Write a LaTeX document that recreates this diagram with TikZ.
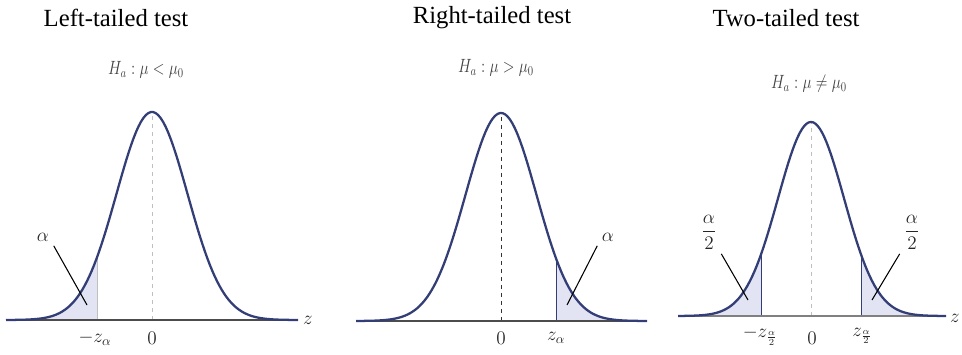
\documentclass[tikz,border=0pt]{standalone}
\usepackage{fontspec}
\setmainfont{Liberation Serif}
\definecolor{bellblue}{RGB}{52,62,118}
\definecolor{tailfill}{RGB}{226,228,244}
\tikzset{
  curve/.style={bellblue, line width=1.7pt},
  axisline/.style={black!70, line width=1.5pt},
  tailarea/.style={fill=tailfill},
  cutline/.style={bellblue, line width=0.7pt},
  leader/.style={black, line width=0.8pt},
  midline/.style={black!25, dashed, line width=0.6pt},
  title/.style={font=\fontsize{18.5}{20}\selectfont},
  hyp/.style={text=black!75, xscale=0.8, font=\fontsize{14}{16}\selectfont},
  ticklab/.style={text=black!85, font=\fontsize{14}{16}\selectfont},
}

\begin{document}
\begin{tikzpicture}[x=0.75pt, y=0.75pt]
  \useasboundingbox (0,0) rectangle (962,354);

  % left-tailed test
  \fill[tailarea] (6,34) -- plot[domain=6:97, samples=60] (\x,{34+208*exp(-0.5*((\x-152)/35.5)^2)}) -- (97,34) -- cycle;
  \draw[cutline, black!25] (97,34) -- (97,96.6);
  \draw[midline] (152,34) -- (152,242);
  \draw[axisline] (6,34) -- (298,34);
  \draw[curve] plot[domain=6:298, samples=120] (\x,{34+208*exp(-0.5*((\x-152)/35.5)^2)});
  \node[title] (t1) at (116,336) {Left-tailed test};
  \node[hyp] (h1) at (146,284) {$H_a:\mu<\mu_0$};
  \node[ticklab] (lz1) at (95,16) {$-z_\alpha$};
  \node[ticklab] (o1) at (152,16) {$0$};
  \node[ticklab] (z1) at (308,34) {$z$};
  \node[ticklab] (a1) at (43,117) {$\alpha$};
  \coordinate (a1e) at (87,49);
  \draw[leader] (a1.south east) -- (a1e);

  % right-tailed test
  \fill[tailarea] (556,33) -- plot[domain=556:647, samples=60] (\x,{33+208*exp(-0.5*((\x-501)/35.5)^2)}) -- (647,33) -- cycle;
  \draw[cutline] (556,33) -- (556,95.6);
  \draw[midline, black!80] (501,33) -- (501,241);
  \draw[axisline] (356,33) -- (647,33);
  \draw[curve] plot[domain=356:647, samples=120] (\x,{33+208*exp(-0.5*((\x-501)/35.5)^2)});
  \node[title] (t2) at (492,336) {Right-tailed test};
  \node[hyp] (h2) at (496,286) {$H_a:\mu>\mu_0$};
  \node[ticklab] (o2) at (501,16) {$0$};
  \node[ticklab] (rz2) at (556,16) {$z_\alpha$};
  \node[ticklab] (a2) at (608,117) {$\alpha$};
  \coordinate (a2e) at (567,49);
  \draw[leader] (a2.south west) -- (a2e);

  % two-tailed test
  \fill[tailarea] (678,38) -- plot[domain=678:761, samples=60] (\x,{38+194*exp(-0.5*((\x-811)/33)^2)}) -- (761,38) -- cycle;
  \fill[tailarea] (861,38) -- plot[domain=861:946, samples=60] (\x,{38+194*exp(-0.5*((\x-811)/33)^2)}) -- (946,38) -- cycle;
  \draw[cutline] (761,38) -- (761,99.5);
  \draw[cutline] (861,38) -- (861,99.5);
  \draw[midline] (811,38) -- (811,232);
  \draw[axisline, black!50] (678,38) -- (946,38);
  \draw[curve] plot[domain=678:946, samples=120] (\x,{38+194*exp(-0.5*((\x-811)/33)^2)});
  \node[title] (t3) at (786,336) {Two-tailed test};
  \node[hyp] (h3) at (809,270) {$H_a:\mu\neq\mu_0$};
  \node[ticklab] (lz3) at (760,18) {$-z_{\frac{\alpha}{2}}$};
  \node[ticklab] (o3) at (812,16) {$0$};
  \node[ticklab] (rz3) at (862,18) {$z_{\frac{\alpha}{2}}$};
  \node[ticklab] (z3) at (955,36) {$z$};
  \node[ticklab] (a3l) at (709,122) {$\displaystyle\frac{\alpha}{2}$};
  \node[ticklab] (a3r) at (912,122) {$\displaystyle\frac{\alpha}{2}$};
  \coordinate (a3le) at (748,54);
  \coordinate (a3re) at (872,54);
  \draw[leader] (a3l.south east) -- (a3le);
  \draw[leader] (a3r.south west) -- (a3re);
\end{tikzpicture}
\end{document}
